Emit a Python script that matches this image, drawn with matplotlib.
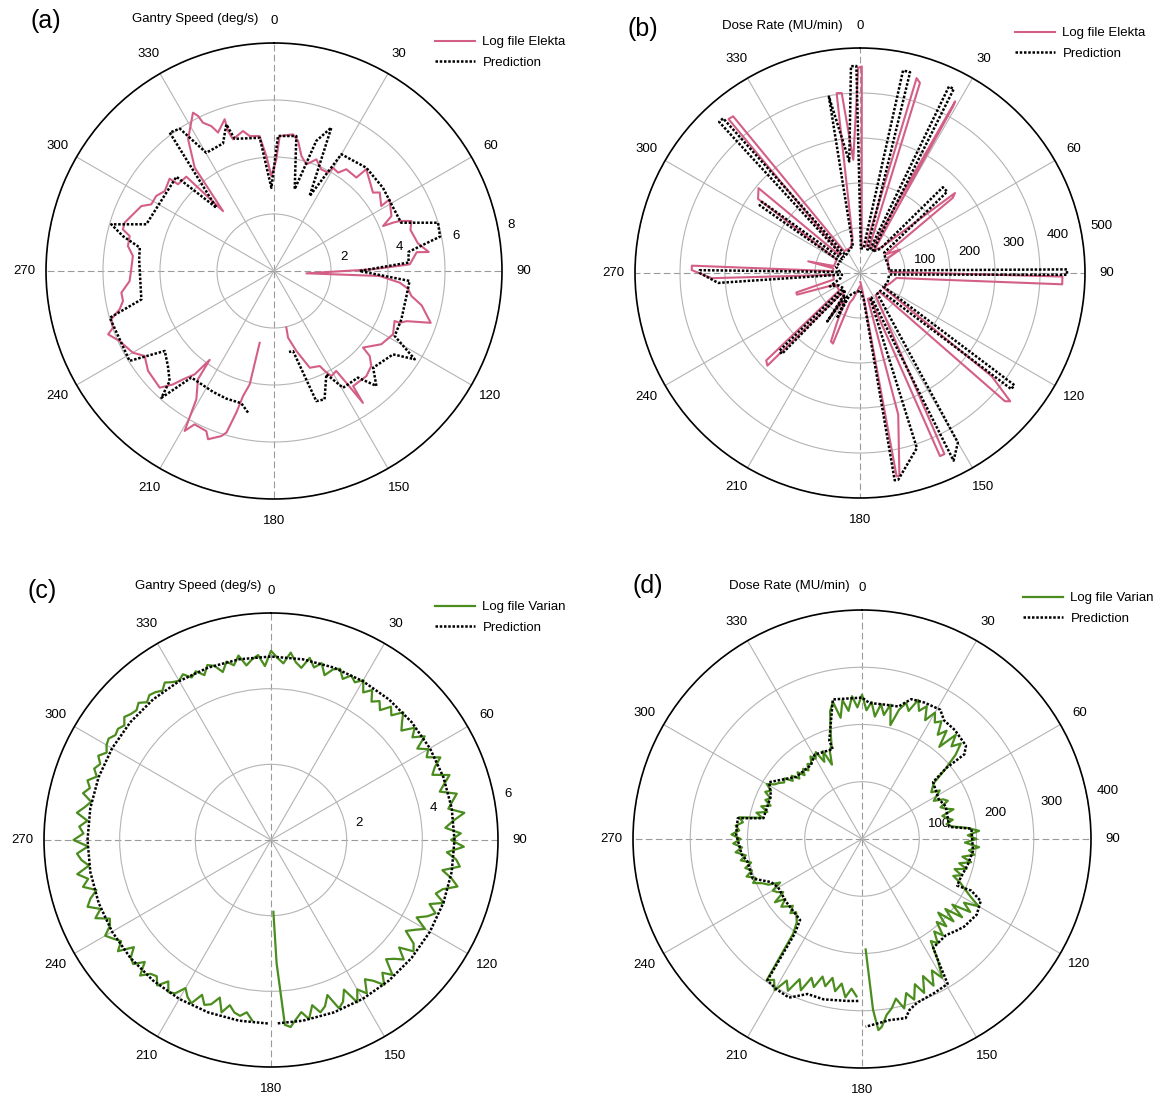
import numpy as np
import matplotlib
matplotlib.use('Agg')
import matplotlib.pyplot as plt

plt.rcParams['font.family'] = ['Liberation Sans', 'DejaVu Sans']

W, H = 1153, 1102
PINK = '#d45f85'
GREEN = '#4a8c1e'
GRID = '#b4b4b4'

# ---------------- (a) Elekta gantry speed (deg/s) ----------------
a_log = [(191.3, 2.57), (192.1, 4.07), (193.9, 4.52), (194.9, 5.14), (196.4, 5.91),
         (197.7, 6.08), (201.4, 6.34), (202.9, 6.10), (207.4, 6.06), (209.2, 6.43),
         (211.2, 5.26), (215.1, 4.64), (215.9, 3.85), (217.5, 4.57), (220.0, 4.96),
         (221.7, 5.33), (224.4, 5.73), (231.6, 5.64), (236.7, 5.43), (239.9, 5.72),
         (245.6, 5.95), (249.1, 6.23), (250.6, 5.99), (253.5, 5.95), (256.1, 5.58),
         (258.8, 5.40), (261.9, 5.41), (266.0, 5.08), (270.7, 5.01), (276.1, 4.98),
         (279.7, 5.20), (283.6, 5.21), (285.4, 5.50), (287.9, 5.51), (292.7, 5.30),
         (296.1, 5.18), (298.5, 4.90), (302.5, 4.90), (306.2, 4.75), (311.5, 4.89),
         (312.1, 4.54), (317.1, 4.52), (319.6, 2.76), (322.5, 4.57), (326.9, 5.52),
         (332.9, 6.24), (333.9, 6.06), (334.4, 5.77), (336.6, 5.54), (338.0, 5.24),
         (342.0, 5.60), (341.8, 5.17), (342.7, 4.84), (347.5, 5.03), (349.8, 4.81),
         (353.9, 4.76), (356.2, 4.04), (358.4, 3.33), (1.2, 3.92), (2.4, 4.74),
         (7.9, 4.84), (10.5, 4.64), (13.4, 4.15), (16.9, 3.91), (20.8, 4.19),
         (25.0, 3.93), (28.8, 3.94), (29.7, 4.17), (33.1, 4.12), (35.4, 4.38),
         (41.4, 4.37), (42.2, 4.82), (46.7, 4.61), (51.6, 4.43), (53.4, 4.62),
         (58.8, 4.40), (58.2, 4.77), (64.9, 4.55), (67.6, 4.14), (67.9, 4.51),
         (68.3, 4.75), (70.0, 5.13), (73.2, 5.00), (79.1, 5.14), (83.0, 5.47),
         (82.5, 5.05), (87.2, 4.77), (89.0, 3.47), (94.1, 1.14), (92.7, 3.71),
         (95.3, 4.43), (97.5, 4.74), (100.3, 4.90), (103.1, 5.32), (108.3, 5.79),
         (110.7, 4.98), (112.4, 4.77), (112.5, 4.58), (118.0, 4.73), (124.3, 4.56),
         (130.7, 4.12), (131.6, 4.49), (134.3, 4.77), (138.7, 4.91), (145.5, 4.90),
         (146.0, 5.58), (147.1, 4.67), (148.1, 4.13), (151.4, 4.20), (153.1, 3.93),
         (154.3, 3.70), (159.7, 3.62), (164.4, 2.91), (168.1, 2.39), (167.7, 2.03)]
a_pred = [(190.4, 5.05), (193.9, 4.78), (200.5, 4.78), (206.8, 4.75), (217.8, 4.73),
          (221.6, 5.95), (223.5, 5.32), (228.1, 5.00), (233.8, 4.75), (238.1, 5.97),
          (254.1, 5.99), (257.9, 4.76), (275.0, 4.75), (279.9, 4.78), (283.0, 5.44),
          (286.0, 5.94), (290.1, 4.77), (314.0, 4.76), (317.7, 3.00), (323.0, 6.08),
          (326.5, 5.99), (330.2, 4.78), (338.2, 4.82), (342.0, 5.41), (343.4, 4.84),
          (353.9, 4.70), (358.2, 2.92), (1.7, 4.74), (9.4, 4.80), (14.2, 2.96),
          (18.0, 4.80), (21.8, 5.42), (25.4, 2.91), (30.0, 4.73), (41.8, 4.86),
          (52.6, 4.81), (69.2, 4.77), (73.6, 6.00), (78.3, 5.95), (81.9, 4.77),
          (86.4, 4.73), (90.0, 3.00), (94.2, 4.77), (100.7, 4.73), (110.8, 4.78),
          (118.3, 4.81), (122.1, 5.83), (125.0, 5.10), (134.3, 4.86), (138.3, 5.40),
          (141.8, 4.76), (149.4, 4.76), (153.1, 4.06), (158.5, 4.84), (162.0, 4.80),
          (166.6, 2.89), (169.5, 2.89)]

# ---------------- (b) Elekta dose rate (MU/min) ----------------
b_log = [(181, 30), (195, 60), (199, 70), (201, 168), (203, 165), (205, 120), (208, 70),
         (212, 80), (214, 120), (216, 60), (222, 60), (225, 291), (227, 285), (230, 60),
         (245, 60), (251, 148), (253, 148), (256, 60), (266, 60), (268, 330), (271, 374),
         (272.5, 374), (274, 60), (280, 60), (282.7, 118), (285, 60), (300, 60),
         (306, 280), (309.9, 294), (311, 60), (315, 60), (319.5, 450), (321, 448),
         (324, 60), (340, 60), (348, 80), (352.6, 403), (354.2, 402), (356.6, 252),
         (359.5, 456), (0.5, 459), (3.6, 60), (12, 60), (16.2, 451), (17.5, 443),
         (20, 60), (25, 60), (29.0, 436), (29.2, 424), (32, 60), (40, 75), (49.9, 276),
         (51, 265), (54, 70), (58, 90), (59.7, 103), (62, 70), (75, 65), (88, 65),
         (91, 450), (93.2, 450), (97.8, 82), (110, 70), (122, 60), (128.1, 372),
         (130.5, 439), (131.5, 430), (134, 60), (145, 60), (155, 444), (156.4, 444),
         (158, 60), (163, 60), (164.9, 326), (169, 459), (169.8, 459), (172, 40), (178, 20)]
b_pred = [(181, 40), (195, 45), (205, 55), (207, 113), (209, 60), (212, 60), (214, 130),
          (216, 60), (222, 50), (224, 250), (226, 249), (228, 50), (240, 55), (246, 73),
          (255, 45), (265, 40), (266, 316), (270, 356), (271, 356), (273, 45), (285, 55),
          (300, 50), (304, 269), (306, 269), (308, 50), (314, 50), (317, 459),
          (318.5, 459), (321, 50), (340, 60), (345, 60), (350, 398), (354.5, 249),
          (357.5, 460), (359, 460), (2, 55), (8, 55), (12, 460), (14, 460), (17, 55),
          (23, 55), (25.5, 459), (27, 459), (30, 55), (40, 70), (44, 265), (47, 265),
          (50, 70), (60, 65), (75, 65), (85, 65), (89, 460), (90.5, 460), (93, 65),
          (110, 65), (120, 60), (126, 424), (127.5, 424), (131, 60), (140, 60),
          (150, 435), (153.5, 466), (155, 60), (158, 60), (162, 409), (169.5, 467),
          (170.5, 467), (172, 60), (178, 40)]

# ---------------- (c) Varian gantry speed (deg/s), sampled every 2 deg from 186 ----------------
c_log_start, c_log_step = 186, 2
c_log_speed = [4.79, 4.60, 4.72, 4.66, 4.50, 4.74, 4.38, 4.62, 4.70, 4.48, 4.80, 4.70, 4.52, 4.78, 4.85,
               4.62, 4.88, 4.70, 4.76, 4.98, 4.64, 4.90, 4.84, 4.60, 5.00, 4.78, 4.92, 5.06, 4.82, 4.74,
               5.08, 4.86, 5.16, 5.02, 4.80, 5.12, 4.94, 5.20, 4.86, 5.04,
               5.14, 4.84, 5.22, 4.96, 5.08, 4.88, 5.18, 5.00, 4.86, 5.12,
               4.98, 5.10, 4.90, 5.04, 4.94, 5.08, 4.92, 5.02,
               5.06, 4.96, 5.00, 4.92, 5.06, 4.98, 4.94, 5.04, 4.90, 5.00, 4.96, 4.88, 5.02, 4.92, 4.86,
               4.96, 4.78, 4.88, 4.70, 4.92, 4.84, 4.62, 4.86, 4.72, 4.95,
               4.66, 4.80, 4.90, 4.60, 5.00, 4.82, 4.68, 4.98, 4.74, 4.62,
               4.92, 4.70, 4.86, 4.58, 4.80, 4.88, 4.66, 4.84, 4.72, 4.88,
               4.60, 4.78, 4.52, 4.66, 4.48, 4.74, 4.58, 4.86, 4.66, 4.50, 4.82, 4.62, 4.90, 4.56, 4.80,
               4.66, 4.98, 4.74, 4.60, 5.02, 4.82, 4.64, 5.06, 4.90, 4.76,
               5.16, 4.84, 4.62, 5.02, 4.76, 5.10, 4.66, 4.92, 5.04, 4.60, 4.88, 5.08, 4.72, 4.58, 4.86,
               4.52, 4.76, 4.60, 4.36, 4.70, 4.48, 4.30, 4.66, 4.78, 4.42, 4.72, 4.52, 4.38, 4.80, 4.58,
               4.86, 4.60, 4.44, 4.78, 4.56, 4.86, 4.40, 4.68, 4.80, 4.36, 4.62, 4.74, 4.50, 4.84, 4.62,
               4.78, 4.97]
c_tail = [(175.7, 4.90), (177.4, 3.26), (178.1, 1.90)]
c_pred_angle = [181, 190, 200, 210, 220, 230, 240, 250, 260, 270, 280, 290, 300, 310, 320,
                330, 340, 350, 0, 10, 20, 30, 40, 50, 60, 70, 80, 90, 100, 110, 120, 130,
                140, 150, 160, 170, 178]
c_pred_speed = [4.85] * len(c_pred_angle)

# ---------------- (d) Varian dose rate (MU/min), sampled every 2 deg from 182 ----------------
d_log_start, d_log_step = 182, 2
d_log_rate = [275, 262, 278, 255, 270, 248, 265, 250, 272, 258, 285, 268, 295, 280, 305, 290, 298,
              205, 185, 178, 172, 180, 168, 176, 184, 170, 188, 166, 175, 180, 162, 182,
              190, 205, 198, 212, 200, 210, 198, 215, 205, 222, 210, 225, 212, 228, 215, 222, 210, 218,
              178, 190, 172, 185, 170, 182, 175, 188, 180, 192, 180, 175, 168, 172, 158, 165, 152, 162,
              150, 160, 152, 162, 158, 170, 162, 172, 150, 168, 140, 165, 172,
              200, 230, 245, 215, 245, 225, 250, 230,
              252, 225, 240, 215, 238, 220, 240, 205, 235, 250, 238, 262, 245, 258, 235, 255, 240,
              248, 225, 240, 210, 245, 225, 240, 220,
              190, 160, 152, 146, 160, 150, 142, 158, 164, 148, 155, 168, 146, 152, 162, 150, 158,
              185, 205, 185, 200, 180, 205, 188, 198, 178, 195, 175, 190, 170, 185, 172, 188,
              200, 215, 235, 210, 228, 195, 222, 190, 215, 185, 212, 195, 220, 205, 225, 215,
              250, 280, 260, 285, 262, 290, 270, 295, 280, 305, 285, 300, 310, 330]
d_tail = [(175.1, 335), (176.3, 299), (178.1, 193)]
d_pred = [(181.3, 283), (185.1, 284), (193.4, 288), (199.4, 287), (204.7, 305), (209.7, 302),
          (213.8, 297), (215.4, 203), (217.4, 178), (231.0, 172), (240.1, 169), (244.7, 176),
          (250.1, 203), (259.0, 204), (262.7, 212), (272.3, 220), (279.5, 220), (281.9, 176),
          (295.3, 176), (301.5, 190), (313.4, 158), (325.4, 157), (330.7, 169), (342.0, 165),
          (341.6, 181), (348.2, 249), (0.0, 247), (3.1, 238), (9.2, 238), (15.4, 240),
          (19.4, 259), (24.5, 262), (31.2, 264), (34.6, 252), (40.5, 250), (48.1, 244),
          (50.4, 232), (49.9, 192), (51.3, 159), (62.6, 151), (68.7, 157), (82.1, 154),
          (84.6, 192), (96.2, 195), (103.8, 190), (111.9, 185), (116.1, 185), (115.3, 211),
          (117.6, 234), (123.4, 240), (130.7, 235), (134.0, 230), (139.0, 223), (146.8, 227),
          (148.4, 262), (149.4, 294), (154.6, 297), (161.5, 302), (164.5, 310), (166.3, 322),
          (171.4, 320), (178.9, 328)]


def rad(deg):
    return np.deg2rad(np.asarray(deg, dtype=float))


fig = plt.figure(figsize=(W / 100, H / 100), dpi=100)


def polar_panel(cx, cy, R, rmax, rings):
    rect = [(cx - R) / W, 1 - (cy + R) / H, 2 * R / W, 2 * R / H]
    ax = fig.add_axes(rect, projection='polar')
    ax.set_theta_zero_location('N')
    ax.set_theta_direction(-1)
    ax.set_ylim(0, rmax)
    ax.set_yticks(rings)
    ax.set_yticklabels([])
    ax.set_xticks([])
    ax.yaxis.grid(True, color=GRID, lw=0.8)
    ax.spines['polar'].set_linewidth(1.2)
    for t in range(0, 360, 30):
        if t % 90 == 0:
            ax.plot(rad([t, t]), [0, rmax], color='#9a9a9a', lw=0.8, ls=(0, (6, 3)), zorder=1)
        else:
            ax.plot(rad([t, t]), [0, rmax], color=GRID, lw=0.8, zorder=1)
        ax.text(rad(t), rmax * (1 + 22 / R), str(t), ha='center', va='center', fontsize=9.5)
    for v in rings:
        off = (14 if v < 10 else 21) / R * rmax
        ax.text(rad(79), v + off, str(v), ha='center', va='center', fontsize=9.5, zorder=2)
    return ax


def header(tag, tx, ty, title, ttx, tty):
    fig.text(tx / W, 1 - ty / H, tag, fontsize=18, ha='center', va='center')
    fig.text(ttx / W, 1 - tty / H, title, fontsize=9.5, ha='center', va='center')


def legend(ax, x, y):
    h, l = ax.get_legend_handles_labels()
    fig.legend(h, l, loc='upper left', bbox_to_anchor=(x / W, 1 - y / H), frameon=False,
               fontsize=9.5, handlelength=3.0, handletextpad=0.6, borderpad=0,
               borderaxespad=0, labelspacing=0.62)


pred_style = dict(color='black', lw=1.8, ls=(0, (1, 0.7)), zorder=4)

# (a)
ax = polar_panel(274, 271, 228, 8, [2, 4, 6, 8])
th, r = np.array(a_log).T
ax.plot(rad(th), r, color=PINK, lw=1.5, zorder=3, label='Log file Elekta')
th, r = np.array(a_pred).T
ax.plot(rad(th), r, label='Prediction', **pred_style)
header('(a)', 46, 21, 'Gantry Speed (deg/s)', 195, 19)
legend(ax, 435, 36)

# (b)
ax = polar_panel(860, 273, 225, 500, [100, 200, 300, 400, 500])
th, r = np.array(b_log).T
ax.plot(rad(th), r, color=PINK, lw=1.5, zorder=3, label='Log file Elekta')
th, r = np.array(b_pred).T
ax.plot(rad(th), r, label='Prediction', **pred_style)
header('(b)', 643, 29, 'Dose Rate (MU/min)', 782, 26)
legend(ax, 1015, 27)

# (c)
ax = polar_panel(271, 840, 227, 6, [2, 4, 6])
th = [(c_log_start + i * c_log_step) % 360 for i in range(len(c_log_speed))]
th = th + [t for t, _ in c_tail]
r = list(c_log_speed) + [v for _, v in c_tail]
ax.plot(rad(th), r, color=GREEN, lw=1.6, zorder=3, label='Log file Varian')
ax.plot(rad(c_pred_angle), c_pred_speed, label='Prediction', **pred_style)
header('(c)', 42, 591, 'Gantry Speed (deg/s)', 198, 586)
legend(ax, 435, 601)

# (d)
ax = polar_panel(862, 839, 229, 400, [100, 200, 300, 400])
th = [(d_log_start + i * d_log_step) % 360 for i in range(len(d_log_rate))]
th = th + [t for t, _ in d_tail]
r = list(d_log_rate) + [v for _, v in d_tail]
ax.plot(rad(th), r, color=GREEN, lw=1.6, zorder=3, label='Log file Varian')
th, r = np.array(d_pred).T
ax.plot(rad(th), r, label='Prediction', **pred_style)
header('(d)', 648, 586, 'Dose Rate (MU/min)', 789, 586)
legend(ax, 1023, 592)

fig.savefig('out.png', dpi=100)
